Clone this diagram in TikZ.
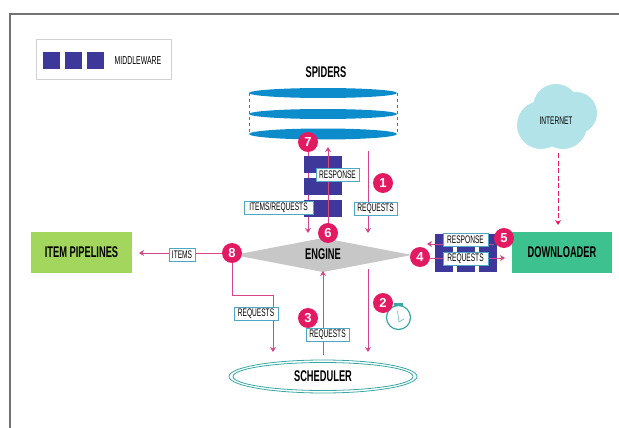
\documentclass[tikz,border=0pt]{standalone}
\usepackage{fontspec}
\setmainfont[FakeStretch=0.6]{Liberation Sans}
\newfontfamily\digitfont{Liberation Sans}
\usetikzlibrary{arrows.meta}
\pgfdeclarelayer{far}
\pgfdeclarelayer{top}
\pgfsetlayers{far,main,top}
\definecolor{FlowClr}{rgb}{0.84,0.27,0.52}
\definecolor{BadgeClr}{rgb}{0.89,0.10,0.38}
\definecolor{BlockClr}{rgb}{0.24,0.22,0.60}
\definecolor{DiskClr}{rgb}{0.05,0.55,0.80}
\definecolor{TagClr}{rgb}{0.30,0.66,0.78}
\definecolor{RingClr}{rgb}{0.22,0.66,0.64}
\definecolor{PipeClr}{rgb}{0.64,0.84,0.36}
\definecolor{LoadClr}{rgb}{0.24,0.76,0.56}
\definecolor{CloudClr}{rgb}{0.70,0.89,0.91}

\begin{document}
\begin{tikzpicture}[x=1pt,y=-1pt,
  tag/.style={draw=TagClr,line width=1pt,fill=white,inner sep=0pt,minimum height=13pt,font=\fontsize{11}{11}\selectfont},
  badge/.style={circle,fill=BadgeClr,text=white,inner sep=0pt,minimum size=20pt,font=\digitfont\bfseries\fontsize{13}{13}\selectfont},
  title/.style={font=\bfseries\fontsize{15.5}{15.5}\selectfont},
  flow/.style={draw=FlowClr,line width=.9pt,-{Stealth[length=5pt,width=6pt]}},
  block/.style={fill=BlockClr}]
\useasboundingbox (0,0) rectangle (619,428);

% labels and badges stay over everything else
\begin{pgfonlayer}{top}
\node[tag,minimum width=43pt] (response1) at (337.5,174.5) {RESPONSE};
\node[tag,minimum width=69pt] (itemsreq) at (278.5,208) {ITEMS/REQUESTS};
\node[tag,minimum width=43pt] (req1) at (375.5,208.5) {REQUESTS};
\node[tag,minimum width=26pt] (items) at (182,254.5) {ITEMS};
\node[tag,minimum width=44pt] (req2) at (256,314) {REQUESTS};
\node[tag,minimum width=43pt] (req3) at (327.5,334.5) {REQUESTS};
\node[tag,minimum width=45pt] (response2) at (465.5,240) {RESPONSE};
\node[tag,minimum width=45pt] (req4) at (465.5,258.5) {REQUESTS};
\node[badge] (n1) at (383,183) {1};
\node[badge] (n2) at (383,303) {2};
\node[badge] (n3) at (308,318) {3};
\node[badge] (n4) at (420,257) {4};
\node[badge] (n5) at (504,238) {5};
\node[badge] (n6) at (328,233) {6};
\node[badge] (n7) at (308,142) {7};
\node[badge] (n8) at (232,253) {8};
\end{pgfonlayer}

% frame and legend
\draw[line width=2.5pt,color=black!55] (10,428) -- (10,14) -- (619,14);
\draw[line width=1pt,color=black!18] (36,40) rectangle (171,80);
\fill[block] (43,52) rectangle (60,69);
\fill[block] (65,52) rectangle (82,69);
\fill[block] (87,52) rectangle (104,69);
\node[font=\fontsize{11.5}{11.5}\selectfont] (legend) at (138,61) {MIDDLEWARE};

% spiders
\node[title] (spiders) at (326,72) {SPIDERS};
\draw[DiskClr,dashed,line width=.6pt] (249,93) -- (249,134);
\draw[DiskClr,dashed,line width=.6pt] (397,93) -- (397,134);
\fill[DiskClr] (323,93) ellipse (74 and 5);
\fill[DiskClr] (323,114) ellipse (74 and 5);
\fill[DiskClr] (323,134) ellipse (74 and 5.5);

% engine
\fill[black!22] (234,255) -- (323,238) -- (412,255) -- (323,272) -- cycle;
\node[title] (engine) at (323,254) {ENGINE};

% middleware, top and right
\fill[block] (304,156) rectangle (342,173);
\fill[block] (304,178) rectangle (342,195);
\fill[block] (304,200) rectangle (342,217);
\fill[block] (435,234) rectangle (497,272);
\fill[white] (453,264) rectangle (457,272);
\fill[white] (475,264) rectangle (479,272);
\fill[white] (453,247) rectangle (457,252);
\fill[white] (475,247) rectangle (479,252);

% boxes
\node[title,fill=PipeClr,minimum width=101pt,minimum height=41pt] (pipelines) at (81.5,252.5) {ITEM PIPELINES};
\node[title,fill=LoadClr,minimum width=100pt,minimum height=41pt] (downloader) at (562,252.5) {DOWNLOADER};
\node[title,inner sep=0pt] (scheduler) at (323,376) {SCHEDULER};
\draw[RingClr,line width=.8pt] (323,376.5) ellipse (94 and 16.5);
\draw[RingClr,line width=.8pt] (323,376.5) ellipse (90 and 14);

% cloud
\fill[CloudClr] (541,125) circle (24);
\fill[CloudClr] (556,107) circle (23);
\fill[CloudClr] (576,113) circle (21);
\fill[CloudClr] (563,125) circle (24);
\node[font=\fontsize{11}{11}\selectfont] (internet) at (556,121) {INTERNET};

% timer
\coordinate (clock) at (398.5,317.5);
\draw[RingClr,line width=1.2pt] (clock) circle (12);
\fill[RingClr] (394,302.5) rectangle (403,305.5);
\draw[RingClr!70,line width=.7pt] (397.5,311) -- (399,322) -- (404,319);

% free ends of the flows
\coordinate (a1) at (368,151);
\coordinate (a2) at (368,233);
\coordinate (b1) at (368,269);
\coordinate (b2) at (368,352);
\coordinate (c1) at (323,355);
\coordinate (c2) at (323,271);
\coordinate (d1) at (273,295);
\coordinate (d2) at (273,352);
\coordinate (e1) at (308,233);
\coordinate (f2) at (328,147);
\coordinate (g1) at (139,253);
\coordinate (h1) at (427,244);
\coordinate (h2) at (505,258);
\coordinate (k1) at (558,153);
\coordinate (k2) at (558,225);

\begin{pgfonlayer}{far}
\draw[flow] (n7.south) -- (e1);
\end{pgfonlayer}
\draw[flow] (a1) -- (a2);
\draw[flow] (b1) -- (b2);
\draw[flow] (c1) -- (c2);
\draw[flow] (n8.south) |- (d1) -- (d2);
\draw[flow] (n6.north) -- (f2);
\draw[flow] (n8.west) -- (g1);
\draw[flow] (n5.west |- h1) -- (h1);
\draw[flow] (n4.east |- h2) -- (h2);
\draw[flow,dash pattern=on 5pt off 2.5pt,line width=.7pt,color=BadgeClr] (k1) -- (k2);
\end{tikzpicture}
\end{document}
